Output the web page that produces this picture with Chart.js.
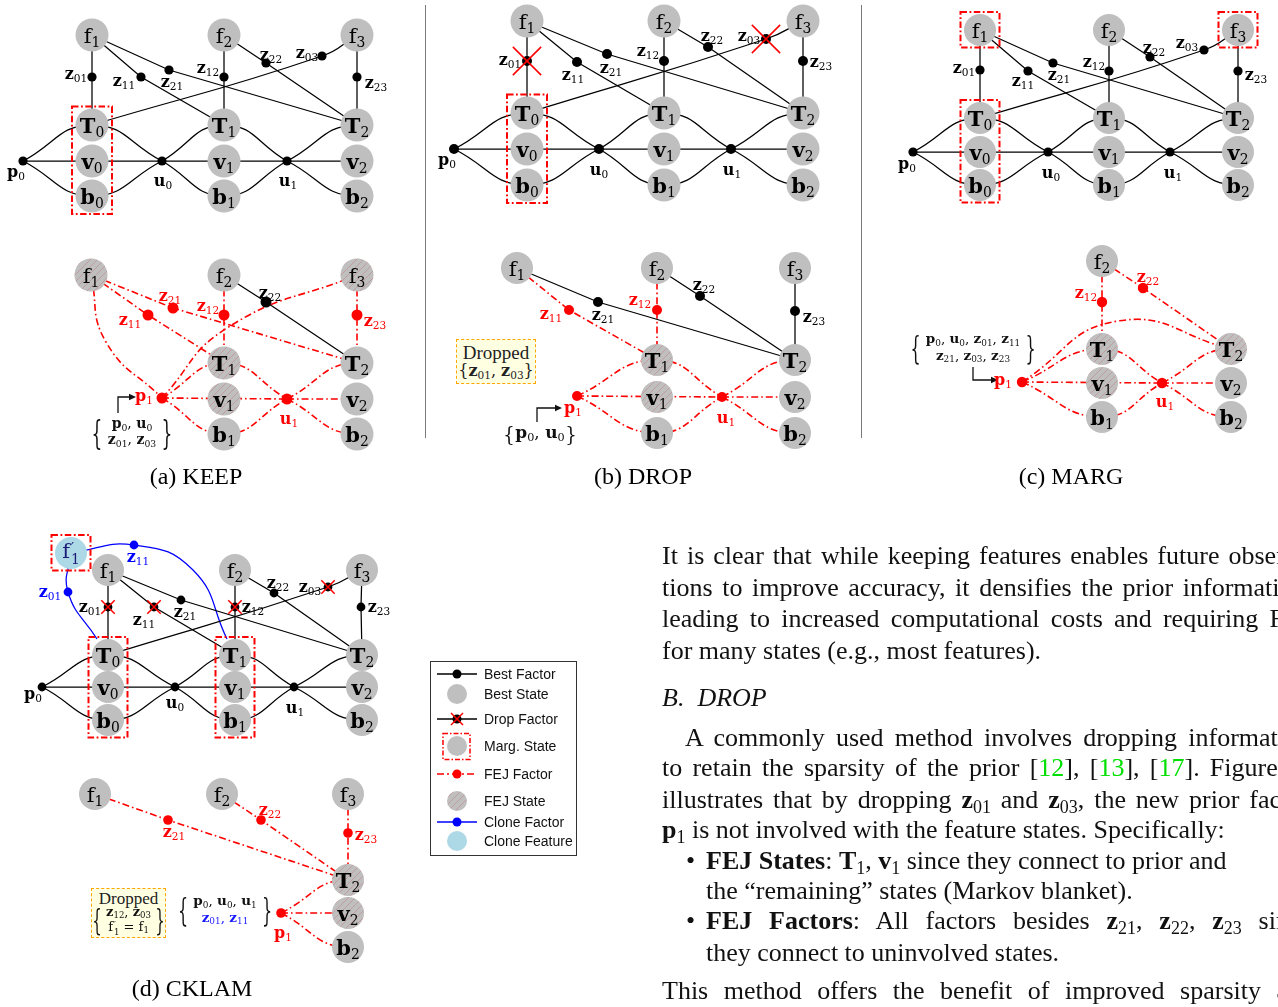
<!DOCTYPE html>
<html>
<head>
<meta charset="utf-8">
<title>KEEP / DROP / MARG / CKLAM factor graphs</title>
<script src="https://cdn.jsdelivr.net/npm/chart.js@4.4.1/dist/chart.umd.min.js"></script>
<style>
  html, body { margin: 0; padding: 0; background: #fff; }
  #stage { position: relative; width: 1278px; height: 1007px; overflow: hidden; background: #fff; }
  #graphs { position: absolute; left: 0; top: 0; }
  .lbl { position: absolute; transform: translate(-50%, -50%); white-space: nowrap;
         font-family: "DejaVu Serif", serif; line-height: 1; color: #000; }
  .nd { font-size: 21px; }
  .fc { font-size: 16px; }
  .mb { font-weight: bold; }
  .mr { font-weight: normal; }
  .lbl sub, .brc sub, .drop sub { font-size: 0.66em; vertical-align: baseline; position: relative; top: 0.3em; font-weight: normal; }
  .ps { display: inline-block; font-size: 0.66em; line-height: 0.85; vertical-align: -0.5em; text-align: left; margin-left: 1px; }
  .ps span { display: block; }
  .brc { position: absolute; transform: translate(-50%, -50%); display: flex; align-items: center;
         font-family: "DejaVu Serif", serif; white-space: nowrap; color: #111; }
  .brc .bk { font-family: "DejaVu Serif", serif; font-weight: 200; line-height: 1; display: inline-block; }
  .brc .bcol { display: flex; flex-direction: column; align-items: center; }
  .drop { position: absolute; box-sizing: border-box; background: #ffffe2; border: 1.5px dashed #ffa500;
          display: flex; flex-direction: column; align-items: center; justify-content: center; color: #222; }
  .drop .dt { font-family: "Liberation Serif", serif; line-height: 1; }
  .sep { position: absolute; width: 1px; background: #7a7a7a; }
  .cap { position: absolute; transform: translate(-50%, -50%); font-family: "Liberation Serif", serif;
         font-size: 24px; white-space: nowrap; color: #000; }
  #legend { position: absolute; left: 430px; top: 661px; width: 147px; height: 195px; }
  #legend canvas { position: absolute; left: 0; top: 0; }
  .lg { position: absolute; left: 54px; transform: translateY(-50%); font-family: "Liberation Sans", sans-serif;
        font-size: 14px; white-space: nowrap; color: #111; }
  .ln { position: absolute; font-family: "Liberation Serif", serif; font-size: 26px; line-height: 31px;
        white-space: nowrap; color: #111; }
  .ln sub { font-size: 18px; vertical-align: baseline; position: relative; top: 5px; }
  .ln .cite { color: #00e000; }
</style>
</head>
<body>
<div id="stage">
  <canvas id="graphs" width="1278" height="1007"></canvas>
  <div id="legend"><canvas id="legendMarks" width="147" height="195"></canvas></div>
</div>
<script>
// ------------------------------------------------------------------
// Factor-graph content. States: [id, x, y, kind]  (S best, H FEJ, C clone)
// Factors: [id, x, y, kind, labelDx, labelDy]     (k best, r FEJ, b clone, x dropped)
// Edges: [shape, colour, ids]  L straight, C smooth, H half arc
// ------------------------------------------------------------------

// edges of the full sliding window (upper row of every panel)
const windowEdges = [
  ['L','k',['f1','z01','T0']], ['L','k',['f1','z11','T1']], ['L','k',['f1','z21','T2']],
  ['L','k',['f2','z12','T1']], ['L','k',['f2','z22','T2']], ['C','k',['T0','z03','f3']],
  ['L','k',['f3','z23','T2']],
  ['C','k',['p0','T0','u0']], ['C','k',['p0','b0','u0']], ['L','k',['p0','u0']],
  ['C','k',['u0','T1','u1']], ['C','k',['u0','b1','u1']], ['L','k',['u0','u1']],
  ['H','k',['u1','T2']], ['H','k',['u1','b2']], ['L','k',['u1','v2']]
];

// (a) KEEP
const keepTopNodes = [
  ['f1',92,35,'S'], ['f2',224,35,'S'], ['f3',357,35,'S'],
  ['T0',92,125,'S'], ['T1',224,125,'S'], ['T2',357,125,'S'],
  ['v0',92,161,'S'], ['v1',224,161,'S'], ['v2',357,161,'S'],
  ['b0',92,196,'S'], ['b1',224,196,'S'], ['b2',357,196,'S']
];
const keepTopFactors = [
  ['p0',23,161,'k',-7,11], ['u0',162,161,'k',1,20], ['u1',287,161,'k',1,20],
  ['z01',92,77,'k',-16,-3], ['z11',141,77,'k',-17,4], ['z21',169,70,'k',3,12],
  ['z12',224,77,'k',-16,-9], ['z22',266,63,'k',5,-8], ['z03',322,56,'k',-15,-3],
  ['z23',357,77,'k',19,6]
];
const keepBottomNodes = [
  ['f1',91,275,'H'], ['f2',224,275,'S'], ['f3',357,275,'H'],
  ['T1',224,363,'H'], ['T2',357,363,'S'],
  ['v1',224,399,'H'], ['v2',357,399,'S'],
  ['b1',224,434,'S'], ['b2',357,434,'S']
];
const keepBottomFactors = [
  ['p1',162,398,'r',-18,-2], ['u1',287,399,'r',2,20],
  ['z11',148,315,'r',-18,5], ['z21',173,308,'r',-3,-12], ['z12',224,315,'r',-16,-9],
  ['z22',266,302,'k',4,-9], ['z23',357,315,'r',18,6]
];
const keepBottomBends = [['wa',106,342], ['wb',227,328]];
const keepBottomEdges = [
  ['L','r',['f1','z11','T1']], ['L','r',['f1','z21','T2']], ['L','r',['f2','z12','T1']],
  ['L','k',['f2','z22','T2']], ['L','r',['f3','z23','T2']],
  ['C','r',['f1','wa','p1']], ['C','r',['p1','wb','f3']],
  ['C','r',['p1','T1','u1']], ['C','r',['p1','b1','u1']], ['L','r',['p1','u1']],
  ['L','r',['u1','v2']], ['H','r',['u1','T2']], ['H','r',['u1','b2']]
];

// (b) DROP
const dropTopNodes = [
  ['f1',527,21,'S'], ['f2',664,21,'S'], ['f3',803,21,'S'],
  ['T0',527,113,'S'], ['T1',664,113,'S'], ['T2',803,113,'S'],
  ['v0',527,149,'S'], ['v1',664,149,'S'], ['v2',803,149,'S'],
  ['b0',527,185,'S'], ['b1',664,185,'S'], ['b2',803,185,'S']
];
const dropTopFactors = [
  ['p0',454,149,'k',-7,11], ['u0',599,149,'k',0,21], ['u1',731,149,'k',1,21],
  ['z01',527,61,'x',-17,-1], ['z11',577,62,'k',-4,13], ['z21',607,54,'k',4,14],
  ['z12',664,61,'k',-16,-10], ['z22',708,47,'k',4,-11], ['z03',766,39,'x',-17,-3],
  ['z23',803,61,'k',18,1]
];
const dropBottomNodes = [
  ['f1',517,268,'S'], ['f2',657,268,'S'], ['f3',795,268,'S'],
  ['T1',657,360,'H'], ['T2',795,360,'S'],
  ['v1',657,397,'H'], ['v2',795,397,'S'],
  ['b1',657,433,'S'], ['b2',795,433,'S']
];
const dropBottomFactors = [
  ['p1',577,396,'r',-4,12], ['u1',722,397,'r',4,21],
  ['z11',569,310,'r',-18,4], ['z21',598,302,'k',5,13], ['z12',657,310,'r',-17,-10],
  ['z22',700,296,'k',4,-11], ['z23',795,311,'k',19,6]
];
const dropBottomEdges = [
  ['L','r',['f1','z11','T1']], ['L','k',['f1','z21','T2']], ['L','r',['f2','z12','T1']],
  ['L','k',['f2','z22','T2']], ['L','k',['f3','z23','T2']],
  ['C','r',['p1','T1','u1']], ['C','r',['p1','b1','u1']], ['L','r',['p1','u1']],
  ['L','r',['u1','v2']], ['H','r',['u1','T2']], ['H','r',['u1','b2']]
];

// (c) MARG
const margTopNodes = [
  ['f1',980,30,'S'], ['f2',1109,30,'S'], ['f3',1238,30,'S'],
  ['T0',980,118,'S'], ['T1',1109,118,'S'], ['T2',1238,118,'S'],
  ['v0',980,152,'S'], ['v1',1109,152,'S'], ['v2',1238,152,'S'],
  ['b0',980,185,'S'], ['b1',1109,185,'S'], ['b2',1238,185,'S']
];
const margTopFactors = [
  ['p0',913,152,'k',-6,12], ['u0',1048,152,'k',3,21], ['u1',1170,152,'k',3,21],
  ['z01',980,70,'k',-16,-2], ['z11',1028,71,'k',-5,10], ['z21',1053,63,'k',6,12],
  ['z12',1109,71,'k',-15,-9], ['z22',1150,57,'k',4,-9], ['z03',1204,50,'k',-17,-7],
  ['z23',1238,71,'k',18,4]
];
const margBottomNodes = [
  ['f2',1102,261,'S'],
  ['T1',1102,349,'H'], ['T2',1231,349,'H'],
  ['v1',1102,383,'H'], ['v2',1231,383,'S'],
  ['b1',1102,417,'S'], ['b2',1231,417,'S']
];
const margBottomFactors = [
  ['p1',1022,382,'r',-19,-2], ['u1',1162,383,'r',3,19],
  ['z12',1102,302,'r',-16,-9], ['z22',1143,288,'r',5,-11]
];
const margBottomBends = [['wc',1118,321]];
const margBottomEdges = [
  ['L','r',['f2','z12','T1']], ['L','r',['f2','z22','T2']], ['C','r',['p1','wc','T2']],
  ['C','r',['p1','T1','u1']], ['C','r',['p1','b1','u1']], ['L','r',['p1','u1']],
  ['L','r',['u1','v2']], ['H','r',['u1','T2']], ['H','r',['u1','b2']]
];

// (d) CKLAM
const cklamTopNodes = [
  ["f'1",71,553,'C'],
  ['f1',108,570,'S'], ['f2',235,570,'S'], ['f3',362,570,'S'],
  ['T0',108,655,'S'], ['T1',235,655,'S'], ['T2',362,655,'S'],
  ['v0',108,687,'S'], ['v1',235,687,'S'], ['v2',362,687,'S'],
  ['b0',108,720,'S'], ['b1',235,720,'S'], ['b2',362,720,'S']
];
const cklamTopFactors = [
  ['p0',42,687,'k',-9,7], ['u0',175,687,'k',0,16], ['u1',294,687,'k',1,21],
  ['z01',108,607,'x',-18,0], ['z11',154,607,'x',-10,13], ['z21',181,600,'k',4,12],
  ['z12',235,607,'x',18,0], ['z22',274,593,'k',4,-10], ['z03',328,587,'x',-18,0],
  ['z23',361,607,'k',18,0],
  ['z01~c',68,592,'b',-18,0], ['z11~c',134,545,'b',4,12]
];
const cklamTopBends = [['w1',193,570], ['e0',97,639], ['e1',227,639]];
const cloneEdges = [
  ['C','b',["f'1",'z01~c','e0']], ['C','b',["f'1",'z11~c','w1','e1']]
];
const cklamBottomNodes = [
  ['f1',95,794,'S'], ['f2',222,794,'S'], ['f3',348,794,'S'],
  ['T2',348,880,'H'], ['v2',348,913,'H'], ['b2',348,947,'S']
];
const cklamBottomFactors = [
  ['p1',281,913,'r',2,20],
  ['z21',168,820,'r',6,12], ['z22',261,820,'r',9,-10], ['z23',348,833,'r',18,2]
];
const cklamBottomEdges = [
  ['L','r',['f1','z21','T2']], ['L','r',['f2','z22','T2']], ['L','r',['f3','z23','T2']],
  ['H','r',['p1','T2']], ['L','r',['p1','v2']], ['H','r',['p1','b2']]
];

// panel captions
const captions = [['(a) KEEP',196,476], ['(b) DROP',643,476], ['(c) MARG',1071,476], ['(d) CKLAM',192,988]];

// ------------------------------------------------------------------
const INK = { k: '#000000', r: '#ff0000', b: '#0000ff' };
const STATE_FILL = '#bfbfbf';
const CLONE_FILL = '#add8e6';
const DASHDOT = [7, 3, 1.6, 3];

const graphs = [
  { nodes: keepTopNodes, factors: keepTopFactors, edges: windowEdges, r: 16.5, fr: 4.6, boxes: [['T0','v0','b0']] },
  { nodes: keepBottomNodes, factors: keepBottomFactors, bends: keepBottomBends, edges: keepBottomEdges, r: 16.5, fr: 5.5 },
  { nodes: dropTopNodes, factors: dropTopFactors, edges: windowEdges, r: 16.5, fr: 5, xr: 20, boxes: [['T0','v0','b0']] },
  { nodes: dropBottomNodes, factors: dropBottomFactors, edges: dropBottomEdges, r: 16, fr: 5 },
  { nodes: margTopNodes, factors: margTopFactors, edges: windowEdges, r: 16, fr: 4.6, boxes: [['f1'], ['f3'], ['T0','v0','b0']] },
  { nodes: margBottomNodes, factors: margBottomFactors, bends: margBottomBends, edges: margBottomEdges, r: 16, fr: 5.2 },
  { nodes: cklamTopNodes, factors: cklamTopFactors, bends: cklamTopBends, edges: windowEdges.concat(cloneEdges), r: 16, fr: 4.4, xr: 9.5,
    boxes: [["f'1"], ['T0','v0','b0'], ['T1','v1','b1']] },
  { nodes: cklamBottomNodes, factors: cklamBottomFactors, edges: cklamBottomEdges, r: 16, fr: 4.8 }
];

// hatched fill used for FEJ states
function hatchPattern() {
  const c = document.createElement('canvas');
  c.width = 7; c.height = 7;
  const g = c.getContext('2d');
  g.fillStyle = STATE_FILL; g.fillRect(0, 0, 7, 7);
  g.strokeStyle = 'rgba(200,95,105,0.6)'; g.lineWidth = 0.6;
  g.beginPath();
  g.moveTo(0, 7); g.lineTo(7, 0);
  g.moveTo(-1, 1); g.lineTo(1, -1);
  g.moveTo(6, 8); g.lineTo(8, 6);
  g.stroke();
  return g.createPattern(c, 'repeat');
}

const statePts = { S: [], H: [], C: [] };
const factorPts = { k: [], r: [], b: [] };
const crossPts = [];
const datasets = [];

graphs.forEach(g => {
  g.pos = {};
  g.nodes.forEach(([id, x, y, kind]) => { g.pos[id] = [x, y]; statePts[kind].push({ x, y, r: g.r }); });
  g.factors.forEach(([id, x, y, kind]) => {
    g.pos[id] = [x, y];
    factorPts[kind === 'x' ? 'k' : kind].push({ x, y, r: g.fr });
    if (kind === 'x') crossPts.push({ x, y, r: g.xr });
  });
  (g.bends || []).forEach(([id, x, y]) => { g.pos[id] = [x, y]; });
  g.edges.forEach(([shape, col, ids]) => {
    const pts = ids.map(id => ({ x: g.pos[id][0], y: g.pos[id][1] }));
    if (shape === 'H') pts.push({ x: 2 * pts[1].x - pts[0].x, y: pts[0].y }); // mirror end, only first half shown
    const ds = {
      data: pts, showLine: true, pointRadius: 0,
      borderColor: INK[col], borderWidth: col === 'r' ? 1.6 : 1.25,
      borderDash: col === 'r' ? DASHDOT : [],
      tension: shape === 'L' ? 0 : 0.48, order: 4
    };
    if (shape === 'H') ds.segment = { borderColor: c => (c.p0DataIndex >= 1 ? 'rgba(0,0,0,0)' : undefined) };
    datasets.push(ds);
  });
});

const radius = c => (c.raw ? c.raw.r : 0);
datasets.push({ data: statePts.S, showLine: false, pointRadius: radius, pointBackgroundColor: STATE_FILL, pointBorderWidth: 0, order: 3 });
datasets.push({ data: statePts.H, showLine: false, pointRadius: radius, pointBackgroundColor: hatchPattern(), pointBorderWidth: 0, order: 3 });
datasets.push({ data: statePts.C, showLine: false, pointRadius: radius, pointBackgroundColor: CLONE_FILL, pointBorderWidth: 0, order: 3 });
['k', 'r', 'b'].forEach(k => datasets.push({
  data: factorPts[k], showLine: false, pointRadius: radius, pointBackgroundColor: INK[k], pointBorderWidth: 0, order: 2
}));
datasets.push({ data: crossPts, showLine: false, pointStyle: 'crossRot', pointRadius: radius,
  pointBorderColor: '#ff0000', pointBorderWidth: 1.5, order: 1 });

// brace arrows pointing at the new prior p1
const arrowPaths = [
  [[118,413],[118,397],[136,397]],
  [[537,422],[537,408],[562,408]],
  [[973,367],[973,380],[998,380]]
];

const decorations = {
  id: 'decorations',
  afterDatasetsDraw(chart) {
    const { ctx, scales: { x, y } } = chart;
    ctx.save();
    // marginalized-state frames
    ctx.strokeStyle = '#ff0000'; ctx.lineWidth = 2; ctx.setLineDash([6.5, 2.5, 1.8, 2.5]);
    graphs.forEach(g => (g.boxes || []).forEach(ids => {
      const xs = ids.map(id => x.getPixelForValue(g.pos[id][0]));
      const ys = ids.map(id => y.getPixelForValue(g.pos[id][1]));
      const l = Math.min(...xs) - g.r - 3.5, r = Math.max(...xs) + g.r + 3.5;
      const t = Math.min(...ys) - g.r - 2, b = Math.max(...ys) + g.r + 1.5;
      ctx.strokeRect(l, t, r - l, b - t);
    }));
    // arrows
    ctx.setLineDash([]); ctx.strokeStyle = '#111'; ctx.fillStyle = '#111'; ctx.lineWidth = 1.3;
    arrowPaths.forEach(p => {
      const q = p.map(([a, b]) => [x.getPixelForValue(a), y.getPixelForValue(b)]);
      ctx.beginPath();
      ctx.moveTo(q[0][0], q[0][1]);
      for (let i = 1; i < q.length; i++) ctx.lineTo(q[i][0] - (i === q.length - 1 ? 5 : 0), q[i][1]);
      ctx.stroke();
      const [ex, ey] = q[q.length - 1];
      ctx.beginPath(); ctx.moveTo(ex, ey); ctx.lineTo(ex - 7, ey - 3.2); ctx.lineTo(ex - 7, ey + 3.2); ctx.closePath(); ctx.fill();
    });
    ctx.restore();
  }
};

const chart = new Chart(document.getElementById('graphs'), {
  type: 'line',
  data: { datasets },
  options: {
    responsive: false, animation: false, events: [],
    layout: { padding: 0, autoPadding: false },
    plugins: { legend: { display: false }, tooltip: { enabled: false } },
    scales: {
      x: { type: 'linear', min: 0, max: 1278, display: false },
      y: { type: 'linear', min: 0, max: 1007, reverse: true, display: false }
    }
  },
  plugins: [decorations]
});

// ------------------------------------------------------------------
// text layer
const stage = document.getElementById('stage');
const PX = v => chart.scales.x.getPixelForValue(v);
const PY = v => chart.scales.y.getPixelForValue(v);

function mathHTML(s) {
  return s.replace(/([a-zA-Z])('?)(\d+)/g, (all, l, p, d) => {
    const letter = `<span class="${l === 'f' ? 'mr' : 'mb'}">${l}</span>`;
    return p ? letter + `<span class="ps"><span>′</span><span>${d}</span></span>` : letter + `<sub>${d}</sub>`;
  });
}
function put(html, cls, x, y, color) {
  const d = document.createElement('div');
  d.className = cls; d.innerHTML = html;
  d.style.left = PX(x) + 'px'; d.style.top = PY(y) + 'px';
  if (color) d.style.color = color;
  stage.appendChild(d);
  return d;
}

graphs.forEach(g => {
  g.nodes.forEach(([id, x, y, kind]) => put(mathHTML(id), 'lbl nd', x, y + 0.5, kind === 'C' ? '#1c1c78' : '#000'));
  g.factors.forEach(([id, x, y, kind, dx, dy]) => {
    const col = kind === 'r' ? INK.r : kind === 'b' ? INK.b : '#000';
    put(mathHTML(id.split('~')[0]), 'lbl fc', x + dx, y + dy, col);
  });
});

captions.forEach(([t, x, y]) => put(t, 'cap', x, y));

// separators between the upper panels
[[425, 5, 433], [861, 5, 433]].forEach(([x, t, h]) => {
  const s = document.createElement('div'); s.className = 'sep';
  s.style.left = x + 'px'; s.style.top = t + 'px'; s.style.height = h + 'px';
  stage.appendChild(s);
});

// braces with the marginalized / removed variables
function brace(lines, fs, bk, x, y) {
  const body = lines.map(l => `<span>${l}</span>`).join('');
  const d = put(`<span class="bk">{</span><span class="bcol">${body}</span><span class="bk">}</span>`, 'brc', x, y);
  d.querySelectorAll('.bk').forEach(b => { b.style.fontSize = bk[0] + 'px'; b.style.transform = `scaleX(${bk[1]})`; });
  d.querySelector('.bcol').style.fontSize = fs + 'px';
  d.querySelector('.bcol').style.lineHeight = (fs + 1) + 'px';
  return d;
}
brace([mathHTML('p0, u0'), mathHTML('z01, z03')], 14, [34, 0.5], 132, 432);
brace([mathHTML('p0, u0')], 17, [20, 0.9], 540, 433);
brace([mathHTML('p0, u0, z01, z11'), mathHTML('z21, z03, z23')], 13.5, [32, 0.5], 973, 347);
brace([mathHTML('p0, u0, u1'), `<span style="color:#1a1aff">${mathHTML('z01, z11')}</span>`], 13.5, [32, 0.5], 225, 909);

function dropBox(l, t, w, h, fs, inner) {
  const d = document.createElement('div'); d.className = 'drop';
  d.style.left = PX(l) + 'px'; d.style.top = PY(t) + 'px'; d.style.width = w + 'px'; d.style.height = h + 'px';
  d.innerHTML = `<div class="dt" style="font-size:${fs}px">Dropped</div>` + inner;
  stage.appendChild(d);
  return d;
}
dropBox(456, 339, 80, 45, 19,
  `<div style="font-family:'DejaVu Serif',serif;font-size:16px;line-height:1.1">{${mathHTML('z01, z03')}}</div>`);
const dd = dropBox(91, 888, 75, 50, 17, '<div class="inner" style="position:relative;height:30px;width:70px"></div>');
{
  const b = brace([mathHTML('z12, z03'), mathHTML("f'1 = f1")], 13, [30, 0.5], 0, 0);
  b.remove(); b.style.left = '35px'; b.style.top = '14px';
  dd.querySelector('.inner').appendChild(b);
}

// running text of the paper column
const textLines = [
  [662, 540, 656, 'It is clear that while keeping features enables future observa-'],
  [662, 572, 650, 'tions to improve accuracy, it densifies the prior information,'],
  [662, 603, 648, 'leading to increased computational costs and requiring FEJ'],
  [662, 635, 0, 'for many states (e.g., most features).'],
  [662, 682, 0, '<i>B.&nbsp; DROP</i>'],
  [685, 722, 626, 'A commonly used method involves dropping information'],
  [662, 752, 652, 'to retain the sparsity of the prior [<span class="cite">12</span>], [<span class="cite">13</span>], [<span class="cite">17</span>]. Figure 1b'],
  [662, 784, 648, 'illustrates that by dropping <b>z</b><sub>01</sub> and <b>z</b><sub>03</sub>, the new prior factor'],
  [662, 814, 0, '<b>p</b><sub>1</sub> is not involved with the feature states. Specifically:'],
  [686, 845, 0, '•'],
  [706, 845, 0, '<b>FEJ States</b>: <b>T</b><sub>1</sub>, <b>v</b><sub>1</sub> since they connect to prior and'],
  [706, 875, 0, 'the “remaining” states (Markov blanket).'],
  [686, 905, 0, '•'],
  [706, 905, 606, '<b>FEJ Factors</b>: All factors besides <b>z</b><sub>21</sub>, <b>z</b><sub>22</sub>, <b>z</b><sub>23</sub> since'],
  [706, 937, 0, 'they connect to uninvolved states.'],
  [662, 975, 652, 'This method offers the benefit of improved sparsity and']
];
textLines.forEach(([l, t, w, html]) => {
  const d = document.createElement('div'); d.className = 'ln';
  d.style.left = l + 'px'; d.style.top = t + 'px';
  d.innerHTML = `<span>${html}</span>`;
  stage.appendChild(d);
  if (w) {
    const span = d.firstChild;
    const gaps = (span.textContent.match(/ /g) || []).length;
    const natural = span.getBoundingClientRect().width;
    if (gaps) span.style.wordSpacing = ((w - natural) / gaps) + 'px';
  }
});

// legend
const legendRows = ['Best Factor', 'Best State', 'Drop Factor', 'Marg. State', 'FEJ Factor', 'FEJ State', 'Clone Factor', 'Clone Feature'];
const legendY = [13, 33, 58, 85, 113, 140, 161, 180];
const legend = document.getElementById('legend');
legendRows.forEach((t, i) => {
  const d = document.createElement('div'); d.className = 'lg';
  d.style.top = legendY[i] + 'px'; d.textContent = t;
  legend.appendChild(d);
});
(function drawLegendMarks() {
  const c = document.getElementById('legendMarks').getContext('2d');
  c.strokeStyle = '#333'; c.lineWidth = 1; c.strokeRect(0.5, 0.5, 146, 194);
  const cx = 27, x0 = 7, x1 = 47;
  const line = (y, col, dash) => { c.save(); c.strokeStyle = col; c.lineWidth = 1.3; c.setLineDash(dash || []); c.beginPath(); c.moveTo(x0, y); c.lineTo(x1, y); c.stroke(); c.restore(); };
  const dot = (y, col, r) => { c.fillStyle = col; c.beginPath(); c.arc(cx, y, r, 0, Math.PI * 2); c.fill(); };
  line(legendY[0], '#000'); dot(legendY[0], '#000', 4.5);
  dot(legendY[1], STATE_FILL, 10);
  line(legendY[2], '#000'); dot(legendY[2], '#000', 4.5);
  c.strokeStyle = '#ff0000'; c.lineWidth = 1.5; c.beginPath();
  c.moveTo(cx - 6, legendY[2] - 6); c.lineTo(cx + 6, legendY[2] + 6);
  c.moveTo(cx - 6, legendY[2] + 6); c.lineTo(cx + 6, legendY[2] - 6); c.stroke();
  dot(legendY[3], STATE_FILL, 10);
  c.save(); c.strokeStyle = '#ff0000'; c.lineWidth = 1.5; c.setLineDash([5, 2, 1.5, 2]);
  c.strokeRect(cx - 14, legendY[3] - 12.5, 27, 26); c.restore();
  line(legendY[4], '#ff0000', [7, 3, 2, 3]); dot(legendY[4], '#ff0000', 4.5);
  c.fillStyle = hatchPattern(); c.beginPath(); c.arc(cx, legendY[5], 10, 0, Math.PI * 2); c.fill();
  line(legendY[6], '#0000ff'); dot(legendY[6], '#0000ff', 4.5);
  dot(legendY[7], CLONE_FILL, 10);
})();
</script>
</body>
</html>
